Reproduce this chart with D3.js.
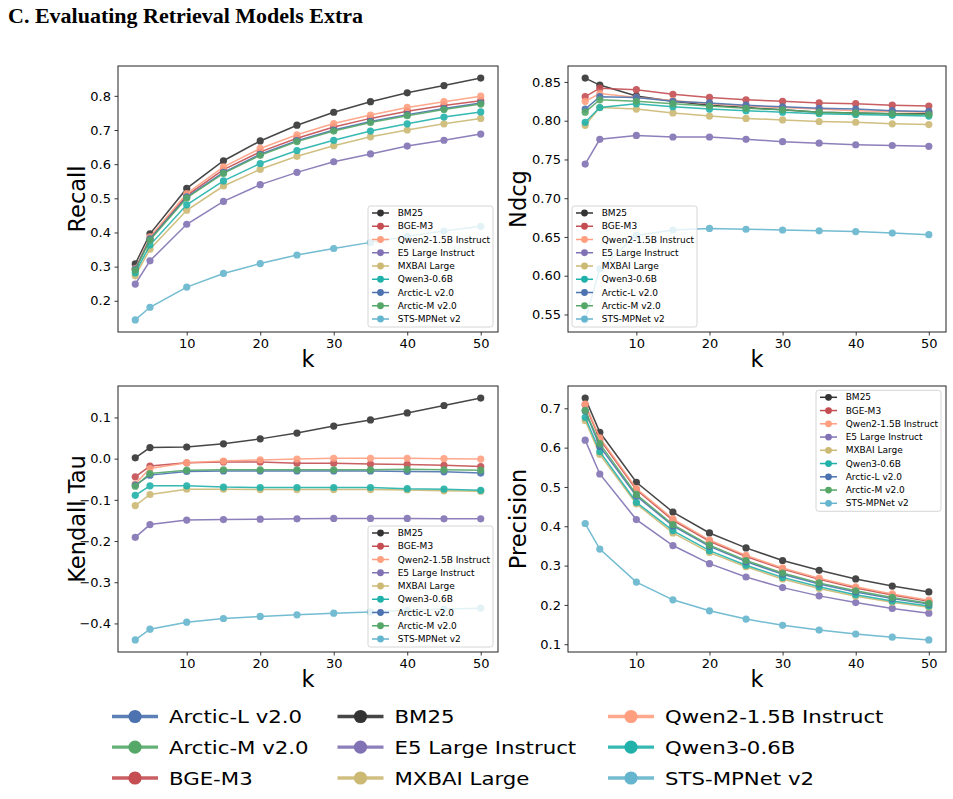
<!DOCTYPE html>
<html>
<head>
<meta charset="utf-8">
<script src="https://cdn.jsdelivr.net/npm/d3@7"></script>
<style>
  body { margin: 0; background: #fff; }
  svg { display: block; }
  text { font-family: "DejaVu Sans", sans-serif; fill: #000; }
</style>
</head>
<body>
<script>
// k values on the x axis
const ks = [3, 5, 10, 15, 20, 25, 30, 35, 40, 45, 50]

// models, in the order they are drawn and listed in the small legends
const models = ['BM25', 'BGE-M3', 'Qwen2-1.5B Instruct', 'E5 Large Instruct', 'MXBAI Large',
  'Qwen3-0.6B', 'Arctic-L v2.0', 'Arctic-M v2.0', 'STS-MPNet v2']
const colors = ['#333333', '#c44e52', '#ff9f80', '#8172b3', '#ccb974',
  '#20b2aa', '#4c72b0', '#55a868', '#64b5cd']

// one row per model (same order as models)
const recall = [
  [0.308, 0.396, 0.529, 0.610, 0.668, 0.714, 0.752, 0.783, 0.809, 0.830, 0.852],
  [0.292, 0.382, 0.508, 0.584, 0.636, 0.676, 0.709, 0.734, 0.755, 0.772, 0.786],
  [0.295, 0.387, 0.514, 0.592, 0.646, 0.686, 0.719, 0.744, 0.766, 0.783, 0.799],
  [0.249, 0.317, 0.424, 0.491, 0.540, 0.576, 0.607, 0.630, 0.653, 0.670, 0.688],
  [0.273, 0.351, 0.465, 0.536, 0.585, 0.623, 0.654, 0.680, 0.700, 0.718, 0.734],
  [0.282, 0.363, 0.481, 0.551, 0.602, 0.640, 0.670, 0.697, 0.718, 0.738, 0.753],
  [0.293, 0.381, 0.504, 0.576, 0.629, 0.669, 0.700, 0.725, 0.745, 0.763, 0.779],
  [0.290, 0.378, 0.501, 0.573, 0.626, 0.666, 0.697, 0.722, 0.742, 0.760, 0.776],
  [0.144, 0.181, 0.240, 0.280, 0.309, 0.334, 0.353, 0.371, 0.389, 0.404, 0.418]
]
const ndcg = [
  [0.855, 0.846, 0.832, 0.825, 0.820, 0.817, 0.814, 0.811, 0.810, 0.809, 0.809],
  [0.831, 0.842, 0.840, 0.834, 0.830, 0.827, 0.825, 0.823, 0.822, 0.820, 0.819],
  [0.825, 0.835, 0.830, 0.826, 0.822, 0.819, 0.817, 0.815, 0.813, 0.812, 0.811],
  [0.744, 0.776, 0.781, 0.779, 0.779, 0.776, 0.773, 0.771, 0.769, 0.768, 0.767],
  [0.794, 0.817, 0.815, 0.810, 0.806, 0.803, 0.801, 0.799, 0.798, 0.796, 0.795],
  [0.798, 0.817, 0.822, 0.818, 0.815, 0.813, 0.811, 0.809, 0.808, 0.807, 0.806],
  [0.815, 0.831, 0.830, 0.825, 0.823, 0.820, 0.818, 0.816, 0.815, 0.813, 0.812],
  [0.811, 0.827, 0.825, 0.822, 0.819, 0.816, 0.814, 0.811, 0.810, 0.809, 0.808],
  [0.543, 0.609, 0.652, 0.659, 0.661, 0.660, 0.659, 0.658, 0.657, 0.655, 0.653]
]
const kendall = [
  [0.002, 0.027, 0.028, 0.036, 0.048, 0.062, 0.079, 0.094, 0.111, 0.129, 0.147],
  [-0.044, -0.018, -0.010, -0.008, -0.008, -0.011, -0.011, -0.013, -0.014, -0.016, -0.019],
  [-0.061, -0.024, -0.010, -0.006, -0.003, -0.001, 0.001, 0.001, 0.001, 0.000, -0.001],
  [-0.191, -0.160, -0.149, -0.148, -0.147, -0.146, -0.145, -0.145, -0.145, -0.146, -0.146],
  [-0.114, -0.087, -0.074, -0.074, -0.075, -0.075, -0.075, -0.075, -0.076, -0.078, -0.079],
  [-0.089, -0.066, -0.066, -0.069, -0.070, -0.070, -0.070, -0.070, -0.073, -0.074, -0.077],
  [-0.064, -0.040, -0.031, -0.030, -0.030, -0.030, -0.030, -0.030, -0.031, -0.032, -0.035],
  [-0.067, -0.036, -0.028, -0.027, -0.027, -0.027, -0.027, -0.027, -0.026, -0.027, -0.028],
  [-0.440, -0.414, -0.397, -0.388, -0.383, -0.379, -0.375, -0.372, -0.368, -0.365, -0.363]
]
const precision = [
  [0.726, 0.639, 0.512, 0.436, 0.383, 0.345, 0.313, 0.288, 0.266, 0.248, 0.233],
  [0.709, 0.621, 0.493, 0.415, 0.362, 0.323, 0.291, 0.265, 0.243, 0.225, 0.209],
  [0.711, 0.625, 0.496, 0.419, 0.365, 0.326, 0.294, 0.268, 0.246, 0.228, 0.212],
  [0.619, 0.533, 0.417, 0.351, 0.305, 0.271, 0.244, 0.223, 0.206, 0.191, 0.179],
  [0.669, 0.583, 0.457, 0.383, 0.333, 0.297, 0.266, 0.242, 0.222, 0.207, 0.194],
  [0.677, 0.590, 0.461, 0.389, 0.338, 0.301, 0.270, 0.246, 0.226, 0.210, 0.197],
  [0.693, 0.603, 0.477, 0.401, 0.349, 0.310, 0.278, 0.253, 0.233, 0.216, 0.202],
  [0.695, 0.610, 0.481, 0.404, 0.352, 0.313, 0.281, 0.256, 0.236, 0.219, 0.204],
  [0.407, 0.342, 0.258, 0.213, 0.185, 0.164, 0.148, 0.136, 0.126, 0.118, 0.111]
]

// tick labels
const xTicks = [10, 20, 30, 40, 50]
const recallTicks = [0.2, 0.3, 0.4, 0.5, 0.6, 0.7, 0.8]
const ndcgTicks = [0.55, 0.60, 0.65, 0.70, 0.75, 0.80, 0.85]
const kendallTicks = [-0.4, -0.3, -0.2, -0.1, 0.0, 0.1]
const precisionTicks = [0.1, 0.2, 0.3, 0.4, 0.5, 0.6, 0.7]

// order of the big legend at the bottom (3 columns, filled down)
const bottomLegend = ['Arctic-L v2.0', 'Arctic-M v2.0', 'BGE-M3', 'BM25', 'E5 Large Instruct',
  'MXBAI Large', 'Qwen2-1.5B Instruct', 'Qwen3-0.6B', 'STS-MPNet v2']

const W = 953, H = 799
const svg = d3.select('body').append('svg').attr('width', W).attr('height', H)

svg.append('text')
  .attr('x', 8).attr('y', 23)
  .style('font-family', '"Liberation Serif", "Times New Roman", serif')
  .style('font-weight', 'bold').style('font-size', '22px')
  .text('C. Evaluating Retrieval Models Extra')

const panels = [
  { data: recall, label: 'Recall', ticks: recallTicks, fmt: d3.format('.1f'),
    box: [118, 66, 498, 332], labelX: 84.5, legend: 'lr' },
  { data: ndcg, label: 'Ndcg', ticks: ndcgTicks, fmt: d3.format('.2f'),
    box: [568, 66, 946, 332], labelX: 525.5, legend: 'll' },
  { data: kendall, label: 'Kendall Tau', ticks: kendallTicks, fmt: d3.format('.1f'),
    box: [118, 386, 498, 652], labelX: 84.5, legend: 'lr' },
  { data: precision, label: 'Precision', ticks: precisionTicks, fmt: d3.format('.1f'),
    box: [568, 386, 946, 652], labelX: 526, legend: 'ur' }
]

// matplotlib style 5% margins
const padded = (lo, hi) => { const m = (hi - lo) * 0.05; return [lo - m, hi + m] }

const drawPanel = (p) => {
  const [x0, y0, x1, y1] = p.box
  const all = p.data.flat()
  const x = d3.scaleLinear().domain(padded(d3.min(ks), d3.max(ks))).range([x0, x1])
  const y = d3.scaleLinear().domain(padded(d3.min(all), d3.max(all))).range([y1, y0])
  const g = svg.append('g')

  const line = d3.line().x((d, i) => x(ks[i])).y(d => y(d))
  p.data.forEach((vals, m) => {
    const s = g.append('g').attr('opacity', 0.9)
    s.append('path').attr('d', line(vals))
      .attr('fill', 'none').attr('stroke', colors[m]).attr('stroke-width', 1.5)
    s.selectAll('circle').data(vals).enter().append('circle')
      .attr('cx', (d, i) => x(ks[i])).attr('cy', d => y(d))
      .attr('r', 3.6).attr('fill', colors[m])
  })

  const xa = g.append('g').attr('transform', `translate(0,${y1})`)
    .call(d3.axisBottom(x).tickValues(xTicks).tickSize(3.5).tickPadding(3.5).tickSizeOuter(0))
  const ya = g.append('g').attr('transform', `translate(${x0},0)`)
    .call(d3.axisLeft(y).tickValues(p.ticks).tickFormat(p.fmt).tickSize(3.5).tickPadding(3.5).tickSizeOuter(0))
  ;[xa, ya].forEach(a => {
    a.select('.domain').remove()
    a.selectAll('line').attr('stroke', '#222').attr('stroke-width', 0.9)
    a.selectAll('text').style('font-size', '13px').style('font-family', '"DejaVu Sans", sans-serif').attr('fill', '#000')
  })

  g.append('rect').attr('x', x0).attr('y', y0).attr('width', x1 - x0).attr('height', y1 - y0)
    .attr('fill', 'none').attr('stroke', '#222').attr('stroke-width', 1)

  g.append('text')
    .attr('transform', `translate(${p.labelX},${(y0 + y1) / 2}) rotate(-90)`)
    .attr('text-anchor', 'middle').style('font-size', '22.5px').text(p.label)
  g.append('text')
    .attr('x', (x0 + x1) / 2).attr('y', y1 + 35)
    .attr('text-anchor', 'middle').style('font-size', '22.5px').text('k')

  // small legend inside the axes
  const lw = 125, lh = 121, pad = 5
  const lx = p.legend === 'll' ? x0 + 4 : x1 - pad - lw
  const ly = p.legend === 'ur' ? y0 + 4.3 : y1 - pad - lh
  const lg = g.append('g').attr('transform', `translate(${lx},${ly})`)
  lg.append('rect').attr('width', lw).attr('height', lh).attr('rx', 2.5)
    .attr('fill', '#fff').attr('fill-opacity', 0.8).attr('stroke', '#ccc').attr('stroke-width', 0.8)
  models.forEach((name, m) => {
    const cy = 7 + m * 13.25
    lg.append('line').attr('x1', 4).attr('x2', 21).attr('y1', cy).attr('y2', cy)
      .attr('stroke', colors[m]).attr('stroke-width', 1.5)
    lg.append('circle').attr('cx', 12.5).attr('cy', cy).attr('r', 3.4).attr('fill', colors[m])
    lg.append('text').attr('x', 29.7).attr('y', cy).attr('dy', '0.35em')
      .style('font-size', '9px').text(name)
  })
}

panels.forEach(drawPanel)

// big legend at the bottom
const colStart = [112, 337.5, 608]
const rowY = [716.5, 747.2, 778]
bottomLegend.forEach((name, i) => {
  const c = Math.floor(i / 3), r = i % 3
  const color = colors[models.indexOf(name)]
  const g = svg.append('g').attr('transform', `translate(${colStart[c]},${rowY[r]})`)
  g.append('line').attr('x1', 0).attr('x2', 46).attr('stroke', color).attr('stroke-width', 3.3).attr('opacity', 0.9)
  g.append('circle').attr('cx', 23).attr('r', 6.6).attr('fill', color)
  g.append('text').attr('transform', 'translate(57,0) scale(1.15,1)').attr('dy', '0.36em')
    .style('font-size', '18.5px').text(name)
})
</script>
</body>
</html>
